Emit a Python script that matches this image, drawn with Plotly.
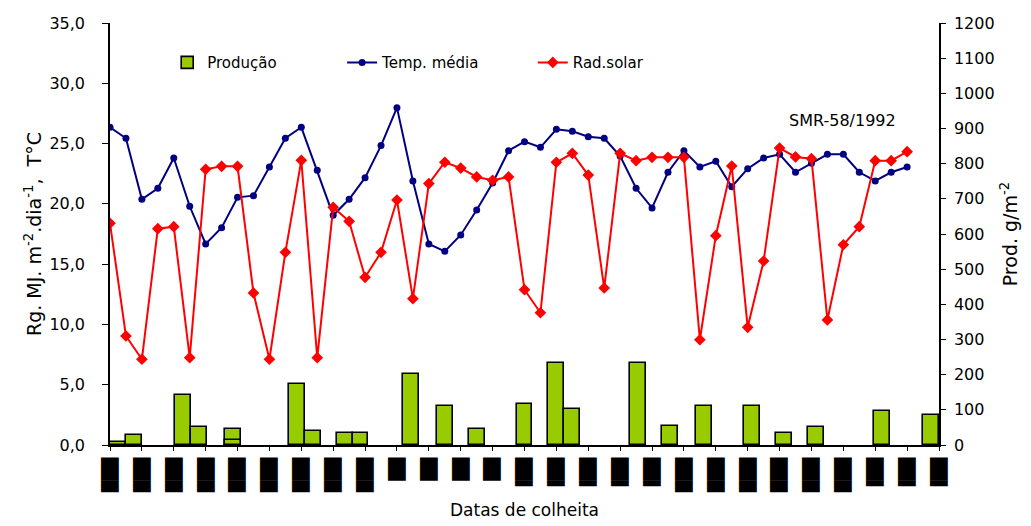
import plotly.graph_objects as go

# ---- data ----
# weekly measurement days (day index from start of the period)
week_days = [7 * k for k in range(51)]
temp_media = [26.35, 25.44, 20.38, 21.29, 23.80, 19.80, 16.67, 18.02, 20.54, 20.68,
              23.06, 25.44, 26.35, 22.78, 19.05, 20.38, 22.17, 24.83, 27.98, 21.90,
              16.67, 16.06, 17.42, 19.49, 21.73, 24.41, 25.16, 24.69, 26.18, 26.02,
              25.57, 25.44, 23.97, 21.29, 19.66, 22.62, 24.41, 23.06, 23.53, 21.42,
              22.92, 23.80, 24.11, 22.62, 23.36, 24.11, 24.11, 22.62, 21.90, 22.62, 23.06]
rad_solar = [18.39, 9.04, 7.11, 17.94, 18.11, 7.24, 22.87, 23.11, 23.11, 12.61,
             7.11, 15.98, 23.61, 7.24, 19.71, 18.55, 13.91, 15.98, 20.32, 12.14,
             21.68, 23.45, 22.97, 22.23, 21.95, 22.23, 12.88, 10.97, 23.45, 24.19,
             22.39, 13.02, 24.19, 23.58, 23.86, 23.86, 23.86, 8.73, 17.36, 23.14,
             9.76, 15.26, 24.63, 23.89, 23.75, 10.37, 16.61, 18.11, 23.58, 23.58, 24.33]

# harvest days and production (g/m2)
harvest_days = [3.5, 10.5, 32, 39, 54, 54, 82, 89, 103, 110, 132, 147, 161, 182,
                196, 203, 232, 246, 261, 282, 296, 310, 339, 360.5]
producao = [9, 28, 141, 50, 45, 15, 173, 41, 35, 35, 203, 111, 45, 117,
            234, 101, 233, 54, 111, 111, 35, 50, 97, 85]

# date tick labels (rendered as solid blocks in the source picture)
tick_days = list(range(0, 365, 14))
tick_labels = ["███", "███", "███", "███", "███", "███", "███", "███", "███",
               "██", "██", "██", "██", "▐██", "▐██", "▐██", "▐██", "▐██",
               "███", "███", "███", "███", "███", "███", "▐██", "▐██", "▐██"]

FONT = "DejaVu Sans"

# harvests falling on an already used day are drawn as a second, overlapping bar layer
seen = set()
main_x, main_y, extra_x, extra_y = [], [], [], []
for d, p in zip(harvest_days, producao):
    if d in seen:
        extra_x.append(d)
        extra_y.append(p)
    else:
        seen.add(d)
        main_x.append(d)
        main_y.append(p)

bar_marker = dict(color="#99CC00", line=dict(color="black", width=1.6))
fig = go.Figure()
fig.add_trace(go.Bar(
    x=main_x, y=main_y, width=7, name="Produção", marker=bar_marker,
    yaxis="y", legend="legend", legendgroup="prod",
))
fig.add_trace(go.Bar(
    x=extra_x, y=extra_y, width=7, name="Produção", marker=bar_marker,
    yaxis="y", legend="legend", legendgroup="prod", showlegend=False,
))
fig.add_trace(go.Scatter(
    x=week_days, y=temp_media, name="Temp. média", mode="lines+markers",
    line=dict(color="#000080", width=2), marker=dict(symbol="circle", size=7),
    yaxis="y2", legend="legend2",
))
fig.add_trace(go.Scatter(
    x=week_days, y=rad_solar, name="Rad.solar", mode="lines+markers",
    line=dict(color="#FF0000", width=2), marker=dict(symbol="diamond", size=9),
    yaxis="y2", legend="legend3",
))

leg = dict(orientation="h", yanchor="middle", xanchor="left", bgcolor="rgba(0,0,0,0)",
           font=dict(family=FONT, size=15, color="black"))
fig.update_layout(
    width=1023, height=518,
    margin=dict(l=102, r=92, t=15, b=81),
    paper_bgcolor="white", plot_bgcolor="white",
    separators=",.",
    showlegend=True,
    font=dict(family=FONT, size=16, color="black"),
    barmode="overlay", bargap=0,
    legend=dict(leg, x=0.069, y=0.906),
    legend2=dict(leg, x=0.280, y=0.906),
    legend3=dict(leg, x=0.51, y=0.906),
    xaxis=dict(
        range=[0, 364], tickmode="array", tickvals=tick_days, ticktext=tick_labels,
        tickangle=-90, tickfont=dict(family=FONT, size=15, color="black"),
        ticks="outside", ticklen=4, tickcolor="black", ticklabelstandoff=1,
        showline=True, linecolor="black", linewidth=1.5, showgrid=False, zeroline=False,
        automargin=False,
        title=dict(text="Datas de colheita", font=dict(family=FONT, size=17), standoff=12),
    ),
    yaxis=dict(
        side="right", range=[0, 1200], dtick=100, tick0=0,
        ticks="outside", ticklen=5, tickcolor="black",
        showline=True, linecolor="black", linewidth=1.5, showgrid=False, zeroline=False,
        tickfont=dict(family=FONT, size=16), ticklabelstandoff=5, automargin=False,
        title=dict(text="Prod. g/m<sup>-2</sup>", font=dict(family=FONT, size=19), standoff=10),
    ),
    yaxis2=dict(
        overlaying="y", side="left", range=[0, 35], dtick=5, tick0=0, tickformat=".1f",
        ticks="outside", ticklen=6, tickcolor="black",
        showline=True, linecolor="black", linewidth=1.5, showgrid=False, zeroline=False,
        tickfont=dict(family=FONT, size=16), ticklabelstandoff=14, automargin=False,
        title=dict(text="Rg. MJ. m<sup>-2</sup>.dia<sup>-1</sup>,  T°C",
                   font=dict(family=FONT, size=19), standoff=3),
    ),
    annotations=[dict(text="SMR-58/1992", xref="paper", yref="paper",
                      x=0.8166, y=0.7685, xanchor="left", yanchor="middle",
                      showarrow=False, font=dict(family=FONT, size=16, color="black"))],
)

fig.write_html("out.html")
